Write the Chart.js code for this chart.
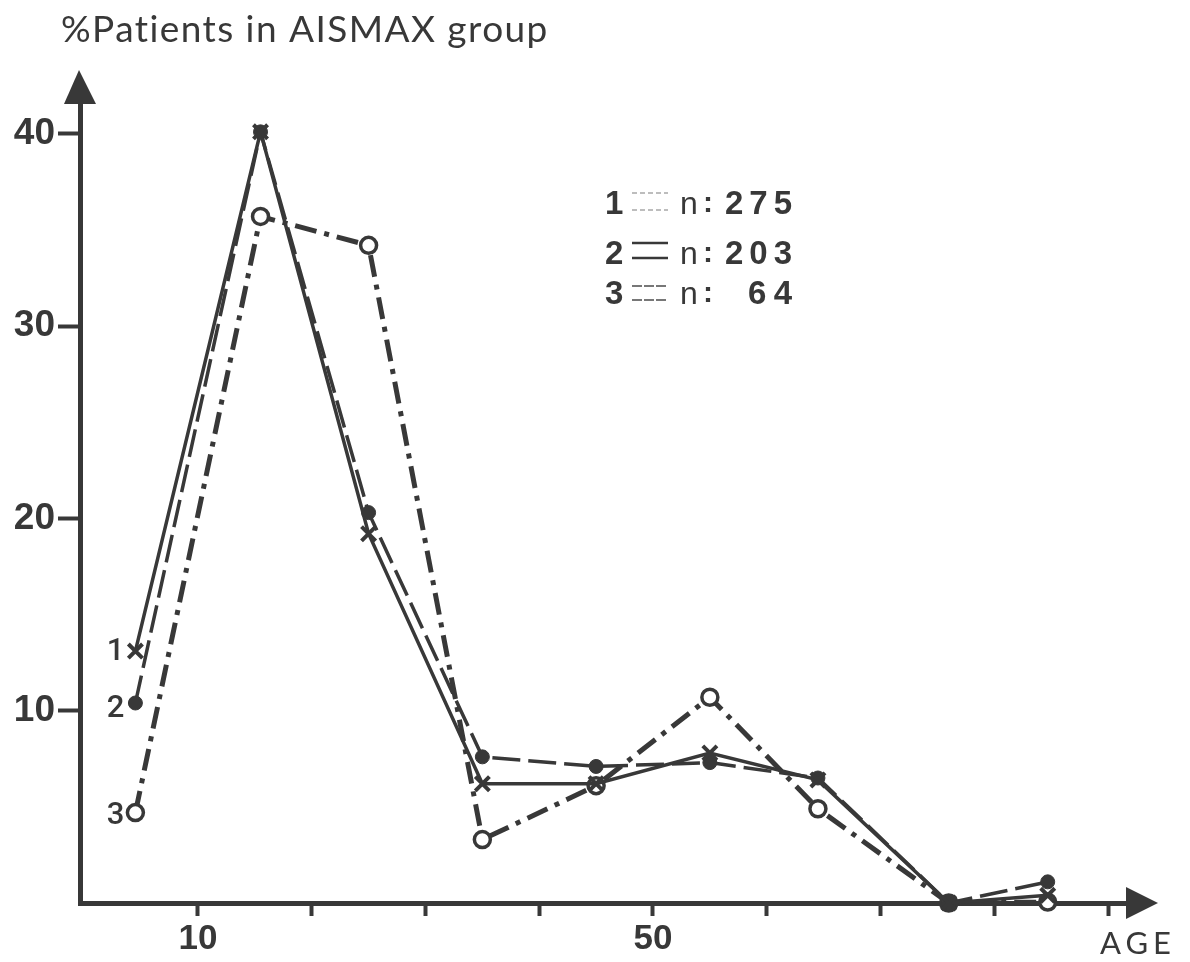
<!DOCTYPE html>
<html><head><meta charset="utf-8">
<script src="https://cdn.jsdelivr.net/npm/chart.js@4.4.1/dist/chart.umd.min.js"></script>
<style>html,body{margin:0;padding:0;background:#fff}canvas{display:block}</style>
</head><body>
<canvas id="c" width="1190" height="962"></canvas>
<script>
// ---- data ----
const ages   = [4.5, 15.5, 25, 35, 45, 55, 64.5, 76, 84.7];
const group1 = [13.1, 40.1, 19.2, 6.2, 6.2, 7.8, 6.4, 0.0, 0.4];   // x, solid
const group2 = [10.4, 40.1, 20.3, 7.6, 7.1, 7.3, 6.5, 0.0, 1.1];   // dot, long dash
const group3 = [4.7, 35.7, 34.2, 3.3, 6.1, 10.7, 4.9, 0.0, 0.05];  // open circle, dash-dot
const yTicks = [10, 20, 30, 40];
const xTicks = [10, 20, 30, 40, 50, 60, 70, 80, 90];
const xTickLabels = {10: '10', 50: '50'};
const titleText = '%Patients in AISMAX group';
const xTitle = 'AGE';
const legendIds = ['1', '2', '3'];
const legendCounts = ['275', '203', '64'];

const INK = '#383838';

function spacedText(ctx, text, x, y, targetW, font, align) {
  ctx.font = font;
  let sp = 0;
  if ('letterSpacing' in ctx) {
    ctx.letterSpacing = '0px';
    const w = ctx.measureText(text).width;
    sp = Math.max(0, (targetW - w) / Math.max(1, text.length - 1));
    ctx.letterSpacing = sp + 'px';
  }
  ctx.textAlign = align || 'left';
  ctx.fillText(text, align === 'right' ? x + sp : x, y);
  if ('letterSpacing' in ctx) ctx.letterSpacing = '0px';
}

const deco = {
  id: 'deco',
  afterDraw(chart) {
    const {ctx, chartArea: a, scales: {x, y}} = chart;
    ctx.save();
    ctx.fillStyle = INK;
    // y arrow
    ctx.beginPath();
    ctx.moveTo(a.left - 16, a.top + 1);
    ctx.lineTo(a.left + 16, a.top + 1);
    ctx.lineTo(a.left - 1, a.top - 33);
    ctx.closePath(); ctx.fill();
    // x arrow
    ctx.beginPath();
    ctx.moveTo(a.right - 1, a.bottom - 16);
    ctx.lineTo(a.right - 1, a.bottom + 16);
    ctx.lineTo(a.right + 31, a.bottom);
    ctx.closePath(); ctx.fill();

    ctx.textBaseline = 'alphabetic';
    // title
    spacedText(ctx, titleText, 61, 42, 487, '37px Lato', 'left');
    // x axis title
    spacedText(ctx, xTitle, 1100, 954, 71, '31px Lato', 'left');

    // series labels near first points
    const series = [group1, group2, group3];
    ctx.font = '500 31px Roboto';
    ctx.textAlign = 'right';
    ctx.textBaseline = 'middle';
    const offs = [1, 6, 4];
    series.forEach((s, i) => {
      const px = x.getPixelForValue(ages[0]);
      const py = y.getPixelForValue(s[0]);
      ctx.fillText(legendIds[i], px - 11, py + offs[i]);
    });

    // legend block
    const rows = [214, 264, 304];
    const lines = [[193, 210], [243, 258], [286, 300]];
    rows.forEach((by, i) => {
      ctx.textBaseline = 'alphabetic';
      ctx.textAlign = 'left';
      ctx.fillStyle = INK;
      ctx.font = 'bold 33px "Liberation Sans"';
      ctx.fillText(legendIds[i], 605, by);
      ctx.font = '32px "Liberation Sans"';
      ctx.fillText('n', 680, by);
      ctx.font = 'bold 30px "Liberation Sans"';
      ctx.fillText(':', 703, by - 2);
      spacedText(ctx, legendCounts[i], 792, by, legendCounts[i].length * 23 - 2, 'bold 33px "Liberation Sans"', 'right');
      // little line samples
      ctx.save();
      if (i === 0) { ctx.strokeStyle = '#a8a8a8'; ctx.lineWidth = 1.5; ctx.setLineDash([5, 3]); }
      else if (i === 1) { ctx.strokeStyle = INK; ctx.lineWidth = 2.5; }
      else { ctx.strokeStyle = '#777'; ctx.lineWidth = 2; ctx.setLineDash([10, 2]); }
      lines[i].forEach(ly => {
        ctx.beginPath(); ctx.moveTo(632, ly); ctx.lineTo(668, ly); ctx.stroke();
      });
      ctx.restore();
    });
    ctx.restore();
  }
};

const pts = arr => ages.map((a, i) => ({x: a, y: arr[i]}));

new Chart(document.getElementById('c'), {
  type: 'line',
  data: {
    datasets: [
      {label: '1', data: pts(group1), borderColor: INK, borderWidth: 3.5,
       pointStyle: 'crossRot', pointRadius: 10, pointBorderWidth: 4,
       pointBorderColor: INK, pointBackgroundColor: INK, clip: false, tension: 0},
      {label: '2', data: pts(group2), borderColor: INK, borderWidth: 3.5, borderDash: [28, 8],
       pointStyle: 'circle', pointRadius: 7, pointBorderWidth: 1,
       pointBorderColor: INK, pointBackgroundColor: INK, clip: false, tension: 0},
      {label: '3', data: pts(group3), borderColor: INK, borderWidth: 5, borderDash: [22, 8, 5, 8],
       pointStyle: 'circle', pointRadius: 8, pointBorderWidth: 3.5,
       pointBorderColor: INK, pointBackgroundColor: '#fff', clip: false, tension: 0}
    ]
  },
  options: {
    responsive: false, animation: false, devicePixelRatio: 1,
    layout: {padding: {top: 103, right: 63, left: 0, bottom: 0}},
    plugins: {legend: {display: false}, title: {display: false}, tooltip: {enabled: false}},
    scales: {
      x: {
        type: 'linear', min: -0.37, max: 91.67,
        afterBuildTicks: s => { s.ticks = xTicks.map(v => ({value: v})); },
        afterFit: s => { s.height = 59; },
        grid: {drawOnChartArea: false, drawTicks: true, tickLength: 13, tickWidth: 4, tickColor: INK},
        border: {display: true, color: INK, width: 5},
        ticks: {callback: v => xTickLabels[v] || '', autoSkip: false, maxRotation: 0,
                font: {family: 'Liberation Sans', size: 35, weight: 'bold'}, color: INK, padding: 2}
      },
      y: {
        min: 0, max: 41.6,
        afterBuildTicks: s => { s.ticks = yTicks.map(v => ({value: v})); },
        afterFit: s => { s.width = 80; },
        grid: {drawOnChartArea: false, drawTicks: true, tickLength: 22, tickWidth: 4, tickColor: INK},
        border: {display: true, color: INK, width: 5},
        ticks: {callback: v => String(v), font: {family: 'Liberation Sans', size: 37, weight: 'bold'},
                color: INK, padding: 3}
      }
    }
  },
  plugins: [deco]
});
</script>
</body></html>
